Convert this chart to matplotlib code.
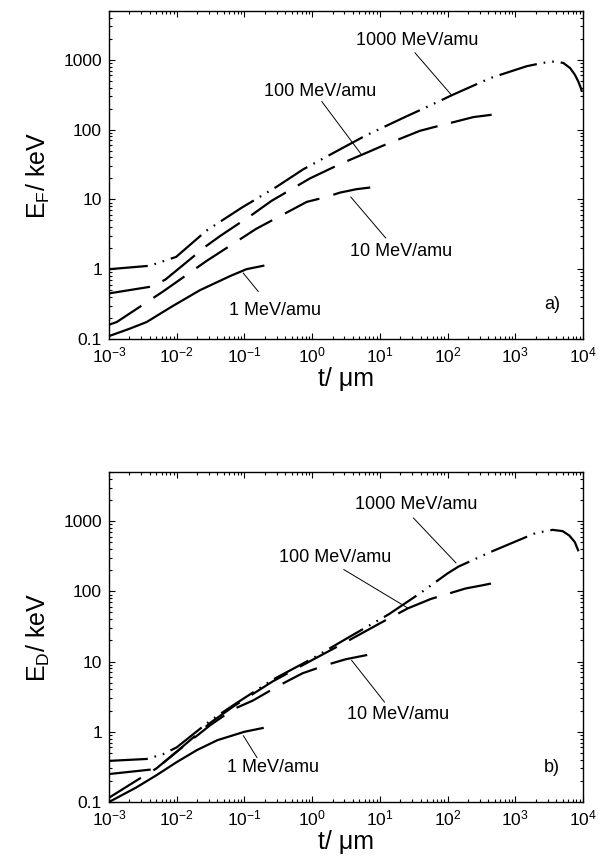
import numpy as np
import matplotlib
matplotlib.use("Agg")
import matplotlib.pyplot as plt
from matplotlib.ticker import FuncFormatter, LogLocator, NullFormatter

plt.rcParams['font.family'] = ['Liberation Sans', 'DejaVu Sans']
plt.rcParams['mathtext.fontset'] = 'custom'
plt.rcParams['mathtext.rm'] = 'Liberation Sans'
plt.rcParams['mathtext.it'] = 'Liberation Sans'
plt.rcParams['mathtext.default'] = 'regular'
plt.rcParams['axes.unicode_minus'] = False
plt.rcParams['lines.scale_dashes'] = False

# ---------------- data: panel a (E_F) ----------------
a_t_1 = [1e-3, 2e-3, 3.6e-3, 8.4e-3, 2.2e-2, 6.2e-2, 0.107, 0.19]
a_E_1 = [0.11, 0.14, 0.175, 0.29, 0.5, 0.8, 1.0, 1.12]

a_t_10 = [1e-3, 1.3e-3, 6.3e-3, 1.26e-2, 2.75e-2, 0.15, 0.83, 1.66, 2.57, 4.5, 7.2]
a_E_10 = [0.16, 0.175, 0.48, 0.77, 1.31, 3.8, 9.2, 10.9, 12.5, 14.0, 14.8]

a_t_100 = [1e-3, 4.3e-3, 6.8e-3, 2.75e-2, 4.4e-2, 0.135, 0.25, 0.93, 2.57, 6.5, 10.7, 39, 62, 240, 447]
a_E_100 = [0.45, 0.565, 0.71, 2.16, 3.0, 6.2, 9.5, 20, 32, 47, 58, 96, 108, 151, 163]

a_t_1000 = [1e-3, 4e-3, 9.8e-3, 2.75e-2, 9.1e-2, 0.30, 0.74, 2.57, 6.0, 23.4, 49, 115, 427,
            1480, 2510, 3890, 5130, 6460, 7590, 8510, 9330, 9660]
a_E_1000 = [1.0, 1.12, 1.5, 3.57, 7.6, 15.2, 27, 52, 81, 151, 210, 310, 547,
            810, 900, 950, 900, 760, 610, 490, 390, 347]

# ---------------- data: panel b (E_D) ----------------
b_t_1 = [1e-3, 2.5e-3, 5e-3, 1e-2, 2e-2, 4e-2, 0.1, 0.186]
b_E_1 = [0.1, 0.16, 0.24, 0.37, 0.55, 0.76, 1.0, 1.13]

b_t_10 = [1e-3, 2.5e-3, 5e-3, 1e-2, 3.16e-2, 6.9e-2, 0.135, 0.316, 0.72, 1.66, 3.16, 6.5]
b_E_10 = [0.115, 0.2, 0.3, 0.52, 1.25, 2.1, 2.8, 4.5, 6.8, 9.0, 10.8, 12.4]

b_t_100 = [1e-3, 4.2e-3, 6.3e-3, 1e-2, 3.16e-2, 6.9e-2, 0.26, 1.0, 3.16, 10, 25.7, 57, 186, 316, 437]
b_E_100 = [0.25, 0.29, 0.36, 0.52, 1.35, 2.3, 5.2, 10.5, 19, 35, 57, 78, 110, 121, 129]

b_t_1000 = [1e-3, 3.6e-3, 6.3e-3, 1e-2, 3.16e-2, 6.9e-2, 0.26, 1.0, 3.6, 13.5, 40, 100, 145, 437,
            2000, 3550, 5010, 6310, 7590, 8510, 9120]
b_E_1000 = [0.385, 0.41, 0.48, 0.6, 1.45, 2.4, 5.5, 11, 22.6, 47, 95, 180, 225, 365,
            676, 750, 720, 620, 500, 380, 300]

xticks = [1e-3, 1e-2, 1e-1, 1e0, 1e1, 1e2, 1e3, 1e4]
yticks = [0.1, 1, 10, 100, 1000]
labels = ["1 MeV/amu", "10 MeV/amu", "100 MeV/amu", "1000 MeV/amu"]

dash10 = (26, 10)
dash100 = (30, 10)
dash1000 = (28, 5, 1.2, 5, 1.2, 5)

W, H = 608, 865
DPI = 100
fig = plt.figure(figsize=(W / DPI, H / DPI), dpi=DPI)

def make_axes(top_px, bot_px):
    left, right = 109, 583
    return fig.add_axes([left / W, 1 - bot_px / H, (right - left) / W, (bot_px - top_px) / H])

axA = make_axes(11, 339)
axB = make_axes(472, 802)

def style_axes(ax, ylabel, panel):
    ax.set_xscale('log')
    ax.set_yscale('log')
    ax.set_xlim(1e-3, 1e4)
    ax.set_ylim(0.1, 5000)
    ax.set_xticks(xticks)
    ax.set_yticks(yticks)
    ax.yaxis.set_major_formatter(FuncFormatter(lambda v, p: f"{v:g}"))
    ax.xaxis.set_minor_locator(LogLocator(base=10, subs=np.arange(2, 10), numticks=20))
    ax.yaxis.set_minor_locator(LogLocator(base=10, subs=np.arange(2, 10), numticks=20))
    ax.xaxis.set_minor_formatter(NullFormatter())
    ax.yaxis.set_minor_formatter(NullFormatter())
    ax.tick_params(which='both', direction='in', top=True, right=True, labelsize=12.5, width=0.8)
    ax.tick_params(which='major', length=4.5, pad=5)
    ax.tick_params(which='minor', length=2.5)
    for s in ax.spines.values():
        s.set_linewidth(1.0)
    ax.set_xlabel("t/ \u03bcm", fontsize=18, labelpad=1)
    ax.set_ylabel(ylabel, fontsize=18, labelpad=8)
    ax.text(0.935, 0.105, panel, transform=ax.transAxes, fontsize=13, ha='center', va='center')

style_axes(axA, "E$_F$/ keV", "a)")
style_axes(axB, "E$_D$/ keV", "b)")

def fitted_dashes(ax, t, E, pattern):
    """Stretch a dash pattern slightly so the line both starts and ends on a dash."""
    pts = ax.transData.transform(np.column_stack([t, E]))
    L = np.sum(np.hypot(*np.diff(pts, axis=0).T)) * 72.0 / DPI
    period = sum(pattern)
    on = pattern[0]
    n = max(1, round((L - on) / period))
    s = L / (n * period + on)
    return (0, tuple(v * s for v in pattern))

lw = 1.6
def draw(ax, t1, e1, t10, e10, t100, e100, t1000, e1000):
    ax.plot(t1, e1, color='k', lw=lw, linestyle='-')
    ax.plot(t10, e10, color='k', lw=lw, linestyle=fitted_dashes(ax, t10, e10, dash10))
    ax.plot(t100, e100, color='k', lw=lw, linestyle=fitted_dashes(ax, t100, e100, dash100))
    ax.plot(t1000, e1000, color='k', lw=lw, linestyle=(0, dash1000))

draw(axA, a_t_1, a_E_1, a_t_10, a_E_10, a_t_100, a_E_100, a_t_1000, a_E_1000)
draw(axB, b_t_1, b_E_1, b_t_10, b_E_10, b_t_100, b_E_100, b_t_1000, b_E_1000)

def note(ax, text, txy, p0, p1):
    ax.text(txy[0], txy[1], text, fontsize=13, ha='center', va='center')
    ax.plot([p0[0], p1[0]], [p0[1], p1[1]], color='k', lw=0.7)

# panel a annotations
note(axA, labels[3], (36, 1880), (33, 1260), (115, 310))
note(axA, labels[2], (1.31, 352), (1.39, 252), (5.19, 45.6))
note(axA, labels[1], (20.6, 1.8), (3.73, 10.8), (12.2, 2.8))
note(axA, labels[0], (0.28, 0.26), (0.096, 0.88), (0.16, 0.48))

# panel b annotations
note(axB, labels[3], (34.4, 1714), (31.3, 1107), (133, 254))
note(axB, labels[2], (2.2, 299), (2.94, 204), (25.7, 58))
note(axB, labels[1], (18.5, 1.77), (3.83, 10.4), (11.7, 2.65))
note(axB, labels[0], (0.263, 0.313), (0.0966, 0.877), (0.153, 0.43))

fig.savefig("out.png", dpi=DPI)
